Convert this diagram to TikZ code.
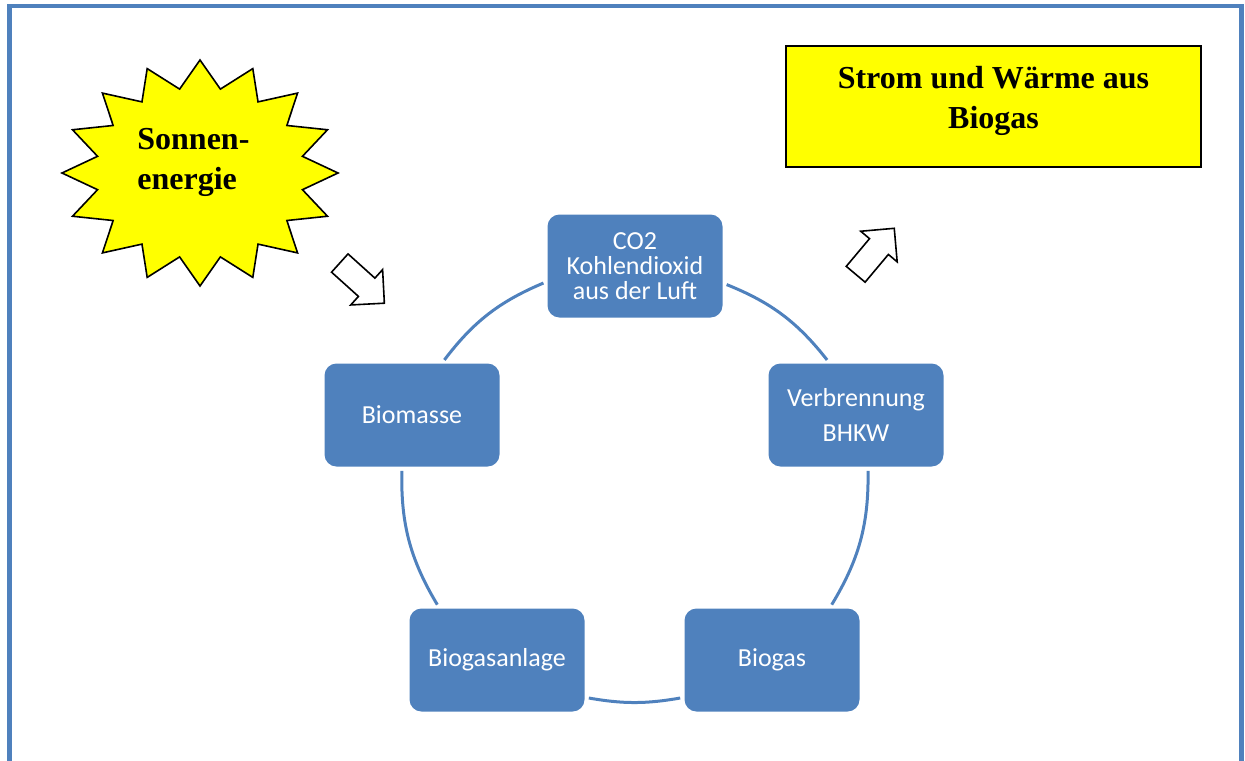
\documentclass[tikz,border=0pt]{standalone}
\usepackage{fontspec}
\setmainfont{Liberation Serif}
\newfontfamily\carlito{Carlito}
\usetikzlibrary{shapes.arrows}
\definecolor{accent}{HTML}{4F81BD}
\definecolor{sunyellow}{RGB}{255,255,0}

\begin{document}
\begin{tikzpicture}[x=0.5pt, y=-0.5pt,
    cyclebox/.style={fill=accent, rounded corners=6pt, minimum width=87.5pt,
      minimum height=51.5pt, align=center, text=white, inner sep=0pt,
      font=\carlito\fontsize{13}{12.5}\selectfont},
    cycleline/.style={draw=accent, line width=1.5pt, shorten <=2pt, shorten >=2pt},
    hollowarrow/.style={single arrow, draw, line width=0.8pt, fill=white,
      inner xsep=0pt, inner ysep=5.75pt, minimum height=30pt,
      single arrow head extend=5.75pt},
    yellowtext/.style={font=\bfseries\fontsize{16}{20}\selectfont, align=center}]
  \def \rx {138}
  \def \ry {113}
  \def \ratio {0.757} % inner radius of the sun, relative
  \useasboundingbox (0,0) rectangle (1245,760);

  % frame, open at the bottom
  \draw[accent, line width=2.25pt] (9.5,764) -- (9.5,6) -- (1241.5,6) -- (1241.5,764);

  % sun
  \draw[fill=sunyellow, line width=0.8pt] plot[samples at={0,...,31}, variable=\k]
    ({200+\rx*ifthenelse(mod(\k,2)==0,1,\ratio)*cos(90+\k*11.25)},
     {173+\ry*ifthenelse(mod(\k,2)==0,1,\ratio)*sin(90+\k*11.25)}) -- cycle;
  \node[yellowtext, align=left, anchor=west, inner sep=0pt] (sun) at (137,162) {Sonnen-\\energie};

  % result box
  \node[draw, fill=sunyellow, line width=1pt, minimum width=207.5pt, minimum height=60.5pt] (goal) at (993.5,106.5) {};
  \node[yellowtext] (goaltext) at (993.5,101) {Strom und Wärme aus\\Biogas};

  % hollow arrows
  \node[hollowarrow, rotate=-42] (inarrow) at (357.5,279) {};
  \node[hollowarrow, rotate=50] (outarrow) at (871,256) {};

  % cycle
  \foreach \nm/\x/\y/\txt in {
      co2/635/266/{CO2\\Kohlendioxid\\aus der Luft},
      verb/856/415/{Verbrennung\\[5pt]BHKW},
      bgas/772/660/{Biogas},
      bga/497/660/{Biogasanlage},
      biom/412/415/{Biomasse}}
    \node[cyclebox] (\nm) at (\x,\y) {\txt};

  \foreach \a/\b/\bend in {co2.-11/verb.117/15, verb.-77/bgas.42/16,
      bgas.203/bga.-23/10, bga.138/biom.-101/16, biom.60/co2.190/15}
    \draw[cycleline] (\a) to[bend left=\bend] (\b);
\end{tikzpicture}
\end{document}
